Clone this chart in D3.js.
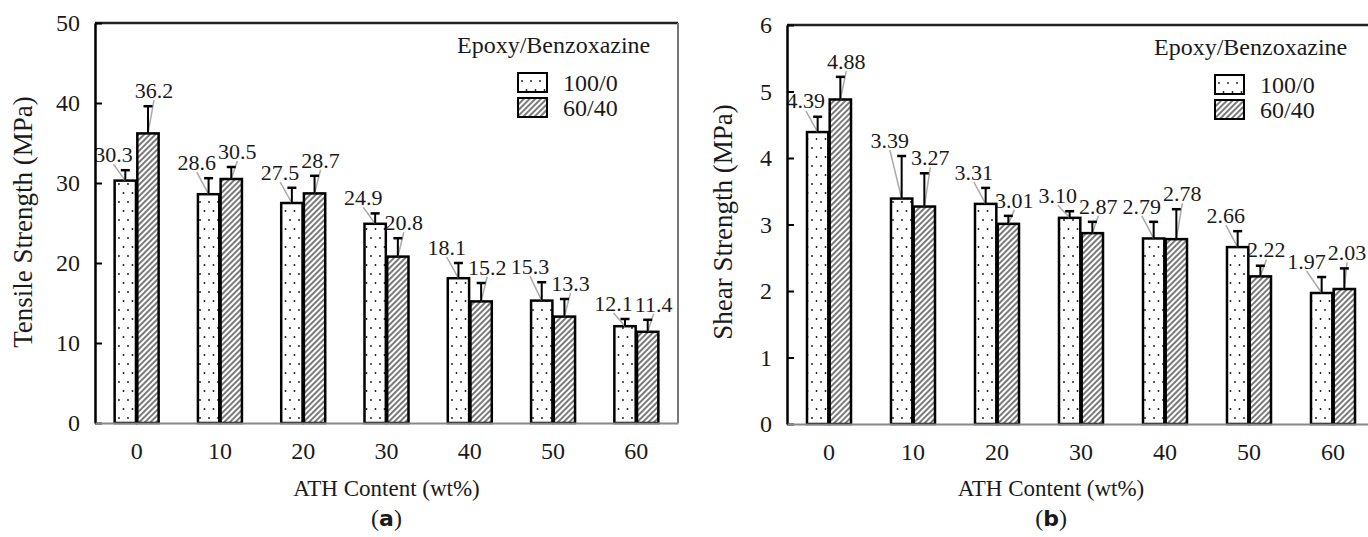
<!DOCTYPE html>
<html lang="en">
<head>
<meta charset="utf-8">
<title>ATH content vs strength</title>
<script src="https://d3js.org/d3.v7.min.js"></script>
<style>
  body { margin: 0; background: #fff; }
</style>
</head>
<body>
<script>
// data
var categories = [0, 10, 20, 30, 40, 50, 60];
var seriesNames = ["100/0", "60/40"];

var tensileNeat = [30.3, 28.6, 27.5, 24.9, 18.1, 15.3, 12.1];
var tensileBlend = [36.2, 30.5, 28.7, 20.8, 15.2, 13.3, 11.4];
var tensileNeatErr = [1.3, 2.0, 1.9, 1.3, 1.9, 2.3, 0.9];
var tensileBlendErr = [3.4, 1.5, 2.2, 2.3, 2.3, 2.2, 1.5];
var tensileTicks = [0, 10, 20, 30, 40, 50];

var shearNeat = [4.39, 3.39, 3.31, 3.10, 2.79, 2.66, 1.97];
var shearBlend = [4.88, 3.27, 3.01, 2.87, 2.78, 2.22, 2.03];
var shearNeatErr = [0.23, 0.64, 0.24, 0.10, 0.25, 0.24, 0.24];
var shearBlendErr = [0.34, 0.50, 0.12, 0.17, 0.45, 0.16, 0.31];
var shearTicks = [0, 1, 2, 3, 4, 5, 6];

var W = 1368, H = 537;
var FONT = "'Liberation Serif', 'Times New Roman', serif";

var svg = d3.select("body").append("svg")
  .attr("width", W)
  .attr("height", H)
  .attr("font-family", FONT);

// fill patterns
var defs = svg.append("defs");
var dots = defs.append("pattern")
  .attr("id", "dots")
  .attr("patternUnits", "userSpaceOnUse")
  .attr("width", 9).attr("height", 18);
dots.append("rect").attr("width", 9).attr("height", 18).attr("fill", "#fff");
dots.append("circle").attr("cx", 2).attr("cy", 4).attr("r", 0.9).attr("fill", "#111");
dots.append("circle").attr("cx", 6.5).attr("cy", 13).attr("r", 0.9).attr("fill", "#111");

var hatch = defs.append("pattern")
  .attr("id", "hatch")
  .attr("patternUnits", "userSpaceOnUse")
  .attr("width", 4).attr("height", 4)
  .attr("patternTransform", "rotate(45)");
hatch.append("rect").attr("width", 4).attr("height", 4).attr("fill", "#fff");
hatch.append("line").attr("x1", 1).attr("y1", 0).attr("x2", 1).attr("y2", 4)
  .attr("stroke", "#333").attr("stroke-width", 1.3);

var fills = ["url(#dots)", "url(#hatch)"];

function txt(sel, size) {
  return sel.attr("font-family", FONT)
    .attr("font-size", size)
    .attr("fill", "#1a1a1a");
}

function panel(p) {
  var g = svg.append("g");

  var x0 = d3.scaleBand().domain(categories).range([p.left, p.right]);
  var x1 = d3.scaleBand().domain([0, 1]).range([0, 44]).paddingInner(0.06);
  var y = d3.scaleLinear().domain([0, p.yMax]).range([p.bottom, p.top]);
  var off = (x0.bandwidth() - 44) / 2;

  // frame: top and right
  g.append("line")
    .attr("x1", p.left).attr("x2", p.right)
    .attr("y1", p.top).attr("y2", p.top)
    .attr("stroke", "#222").attr("stroke-width", 2.5);
  g.append("line")
    .attr("x1", p.right).attr("x2", p.right)
    .attr("y1", p.top).attr("y2", p.bottom)
    .attr("stroke", "#777").attr("stroke-width", 2);

  var rows = [];
  categories.forEach(function(c, i) {
    p.values.forEach(function(arr, s) {
      rows.push({ c: c, i: i, s: s, v: arr[i], e: p.errs[s][i] });
    });
  });
  function cx(d) { return x0(d.c) + off + x1(d.s) + x1.bandwidth() / 2; }
  function labY(d) { return y(d.v + d.e) - 16; }
  // first guess for label x, kept inside the page
  rows.forEach(function(d) {
    d.lx = Math.min(cx(d) + (d.s === 0 ? -6 : 6), W - 21);
  });

  // bars
  g.append("g").selectAll("rect")
    .data(rows)
    .join("rect")
    .attr("x", function(d) { return x0(d.c) + off + x1(d.s); })
    .attr("y", function(d) { return y(d.v); })
    .attr("width", x1.bandwidth())
    .attr("height", function(d) { return y(0) - y(d.v); })
    .attr("fill", function(d) { return fills[d.s]; })
    .attr("stroke", "#000")
    .attr("stroke-width", 2.5);

  var leaderG = g.append("g");
  var errG = g.append("g");
  var labG = g.append("g");

  // value labels
  var labels = labG.selectAll("text")
    .data(rows)
    .join("text")
    .attr("y", labY)
    .attr("dy", "0.35em")
    .attr("text-anchor", "middle")
    .call(txt, 22)
    .text(function(d) { return d3.format(p.fmt)(d.v); })
    .each(function(d) { d.w = this.getComputedTextLength(); });

  // push the left label away when the pair would collide
  categories.forEach(function(c, i) {
    var a = rows[i * 2], b = rows[i * 2 + 1];
    var gap = (b.lx - b.w / 2) - (a.lx + a.w / 2);
    if (gap < 2) a.lx -= 2 - gap;
  });
  labels.attr("x", function(d) { return d.lx; });

  // leader lines
  leaderG.selectAll("line")
    .data(rows)
    .join("line")
    .attr("x1", cx)
    .attr("y1", function(d) { return y(d.v); })
    .attr("x2", function(d) { return d.lx; })
    .attr("y2", function(d) { return labY(d) + 10; })
    .attr("stroke", "#aaa")
    .attr("stroke-width", 1.5);

  // error bars (upper half)
  var eb = errG.selectAll("g")
    .data(rows)
    .join("g");
  eb.append("line")
    .attr("x1", cx).attr("x2", cx)
    .attr("y1", function(d) { return y(d.v); })
    .attr("y2", function(d) { return y(d.v + d.e); })
    .attr("stroke", "#000").attr("stroke-width", 2);
  eb.append("line")
    .attr("x1", function(d) { return cx(d) - 4.5; })
    .attr("x2", function(d) { return cx(d) + 4.5; })
    .attr("y1", function(d) { return y(d.v + d.e); })
    .attr("y2", function(d) { return y(d.v + d.e); })
    .attr("stroke", "#000").attr("stroke-width", 2.5);

  // y axis, ticks pointing inward
  var ya = g.append("g")
    .attr("transform", "translate(" + p.left + ",0)")
    .call(d3.axisLeft(y).tickValues(p.ticks).tickFormat(d3.format("d"))
      .tickSizeInner(-7).tickSizeOuter(0).tickPadding(15));
  ya.select(".domain").attr("stroke", "#000").attr("stroke-width", 2.5);
  ya.selectAll(".tick line").attr("stroke", "#000").attr("stroke-width", 2);
  ya.selectAll(".tick text").call(txt, 24);

  // x axis, no tick marks
  var xa = g.append("g")
    .attr("transform", "translate(0," + p.bottom + ")")
    .call(d3.axisBottom(x0).tickSize(0).tickPadding(19));
  xa.select(".domain").attr("stroke", "#888").attr("stroke-width", 2);
  xa.selectAll(".tick text").call(txt, 24);

  // titles
  g.append("text")
    .attr("x", (p.left + p.xTitleRight) / 2)
    .attr("y", 496)
    .attr("text-anchor", "middle")
    .call(txt, 23)
    .text("ATH Content (wt%)");

  g.append("text")
    .attr("transform", "translate(" + p.yTitleX + "," + 222 + ") rotate(-90)")
    .attr("text-anchor", "middle")
    .call(txt, 27)
    .text(p.yTitle);

  var pl = g.append("text")
    .attr("x", (p.left + p.xTitleRight) / 2)
    .attr("y", 526)
    .attr("text-anchor", "middle")
    .call(txt, 24);
  pl.append("tspan").text("(");
  pl.append("tspan").attr("font-weight", "bold")
    .attr("font-family", "'DejaVu Sans', sans-serif").attr("font-size", 22).text(p.tag);
  pl.append("tspan").text(")");

  // legend
  var lg = g.append("g").attr("transform", "translate(" + (p.right - 221) + "," + p.top + ")");
  lg.append("text")
    .attr("x", 0).attr("y", 30)
    .call(txt, 24)
    .text("Epoxy/Benzoxazine");
  seriesNames.forEach(function(name, s) {
    lg.append("rect")
      .attr("x", 61).attr("y", 50 + s * 25)
      .attr("width", 29).attr("height", 19)
      .attr("fill", fills[s])
      .attr("stroke", "#000").attr("stroke-width", 2);
    lg.append("text")
      .attr("x", 106).attr("y", 60 + s * 25)
      .attr("dy", "0.35em")
      .call(txt, 24)
      .text(name);
  });
}

panel({
  left: 95, right: 678, top: 23, bottom: 423,
  yMax: 50, ticks: tensileTicks,
  values: [tensileNeat, tensileBlend],
  errs: [tensileNeatErr, tensileBlendErr],
  fmt: ".1f",
  yTitle: "Tensile Strength (MPa)", yTitleX: 32,
  xTitleRight: 678, tag: "a"
});

panel({
  left: 787, right: 1375, top: 25, bottom: 424,
  yMax: 6, ticks: shearTicks,
  values: [shearNeat, shearBlend],
  errs: [shearNeatErr, shearBlendErr],
  fmt: ".2f",
  yTitle: "Shear Strength (MPa)", yTitleX: 732,
  xTitleRight: 1315, tag: "b"
});
</script>
</body>
</html>
